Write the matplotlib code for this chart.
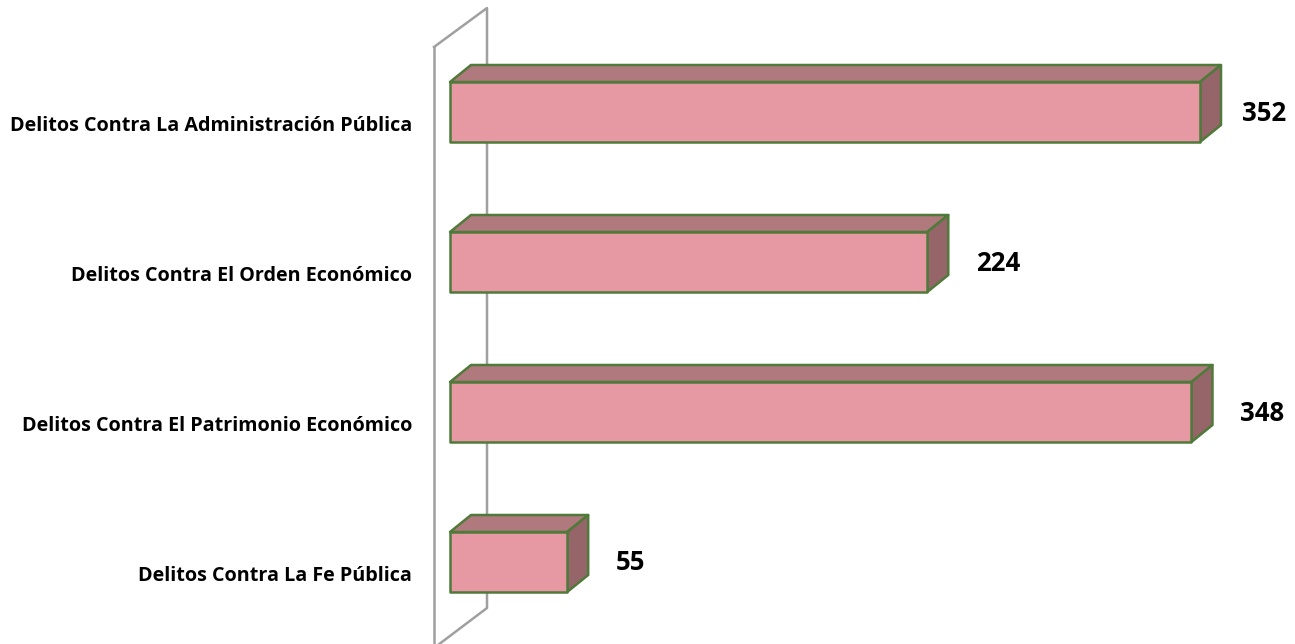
import matplotlib
matplotlib.use("Agg")
import matplotlib.pyplot as plt
from matplotlib.patches import Polygon

categories = ["Delitos Contra La Administración Pública",
              "Delitos Contra El Orden Económico",
              "Delitos Contra El Patrimonio Económico",
              "Delitos Contra La Fe Pública"]
values = [352, 224, 348, 55]

W, H = 1295, 644
fig = plt.figure(figsize=(W / 100, H / 100), dpi=100)
ax = fig.add_axes([0, 0, 1, 1])
ax.axis("off")

# pixel <-> data scale
x0_px = 450.0
ppu = 750.0 / 352.0            # pixels per value unit
yc0_px, ystep = 112.0, 150.0   # first bar centre and spacing in pixels
ax.set_xlim(-x0_px / ppu, (W - x0_px) / ppu)
ax.set_ylim((H - yc0_px) / ystep, -yc0_px / ystep)

def px_x(p):
    return p / ppu

def px_y(p):
    return p / ystep

front = "#E699A3"
top_c = "#AF797D"
side_c = "#956569"
edge = "#4F7A3A"
wall_c = "#A0A0A0"

bh = px_y(60)
dx, dy = px_x(21), -px_y(17)

# wall
wx_f, wx_b = px_x(-16), px_x(37)
wt_f, wt_b = px_y(47 - 112), px_y(8 - 112)
wb_b, wb_f = px_y(608 - 112), px_y(648 - 112)
ax.plot([wx_f, wx_f], [wt_f, wb_f + 0.2], color=wall_c, lw=1.8, zorder=1)
ax.plot([wx_f, wx_b, wx_b, wx_f], [wt_f, wt_b, wb_b, wb_f], color=wall_c, lw=1.8, zorder=1)

fig.canvas.draw()
renderer = fig.canvas.get_renderer()
right_limit = px_x(1286 - x0_px)

for i, (cat, v) in enumerate(zip(categories, values)):
    y0, y1 = i - bh / 2, i + bh / 2
    # top face
    ax.add_patch(Polygon([(0, y0), (v, y0), (v + dx, y0 + dy), (dx, y0 + dy)],
                         closed=True, fc=top_c, ec=edge, lw=1.8, zorder=3, joinstyle="round"))
    # side face
    ax.add_patch(Polygon([(v, y0), (v + dx, y0 + dy), (v + dx, y1 + dy), (v, y1)],
                         closed=True, fc=side_c, ec=edge, lw=1.8, zorder=3, joinstyle="round"))
    # front face
    ax.add_patch(Polygon([(0, y0), (v, y0), (v, y1), (0, y1)],
                         closed=True, fc=front, ec=edge, lw=1.8, zorder=4, joinstyle="round"))
    # category label
    ax.text(px_x(-38), i + px_y(14), cat, ha="right", va="center",
            fontsize=14.2, fontweight="bold", family="Open Sans", color="black")
    # value label (pushed back inside the chart area if it would overflow)
    t = ax.text(v + px_x(49), i + px_y(1), str(v), ha="left", va="center",
                fontsize=18.5, fontweight="bold", family="Open Sans", color="black")
    bb = t.get_window_extent(renderer)
    right_data = ax.transData.inverted().transform((bb.x1, 0))[0]
    if right_data > right_limit:
        t.set_x(right_limit)
        t.set_ha("right")

fig.savefig("out.png", dpi=100)
